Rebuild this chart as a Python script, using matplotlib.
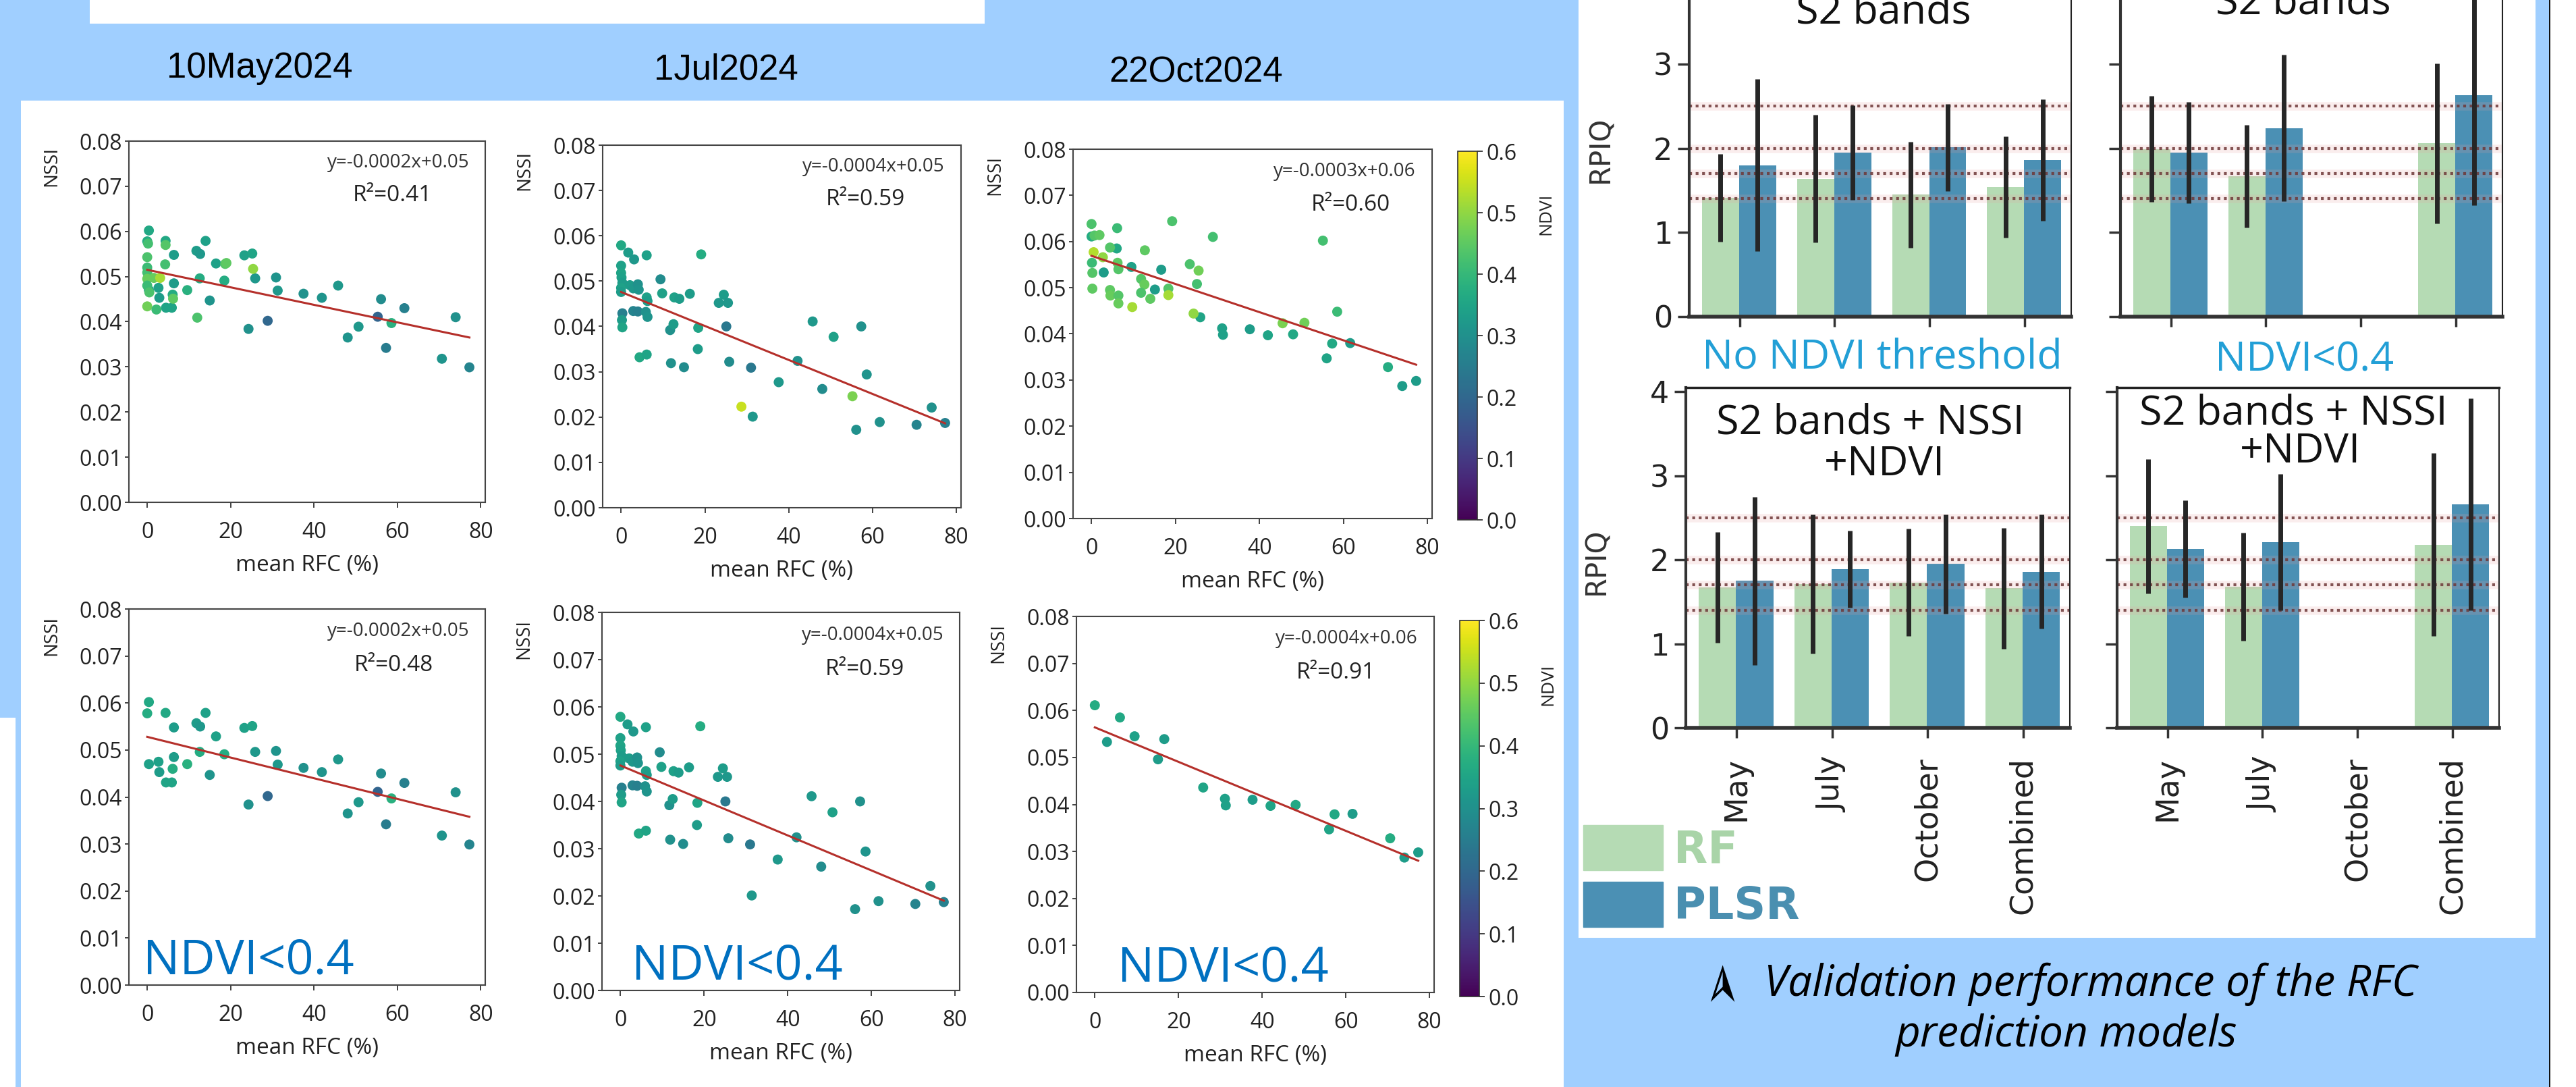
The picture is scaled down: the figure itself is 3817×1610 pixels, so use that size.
import numpy as np
import matplotlib.pyplot as plt
from matplotlib.patches import Rectangle, Patch
from matplotlib.ticker import FormatStrFormatter

plt.rcParams['font.family'] = ['Open Sans', 'DejaVu Sans']

W, H = 3817, 1610
BLUE = '#a0cfff'
RF_C = '#b5dbb4'
PLSR_C = '#4b90b4'
LINE_C = '#b5302b'
LABEL_BLUE = '#0070c0'
THR_BLUE = '#229fd6'

# ---------------- scatter data: mean RFC (%), NSSI, NDVI ----------------
dates = ['10May2024', '1Jul2024', '22Oct2024']

may_rfc = [0.4, 0.0, 0.4, 2.7, 2.9, 4.4, 4.5, 5.9, 6.4, 6.4,
           6.1, 9.6, 11.8, 12.7, 12.6, 14.0, 15.0, 16.5, 18.5, 23.3,
           25.2, 25.9, 24.3, 28.9, 30.9, 31.3, 37.5, 41.9, 45.8, 48.1,
           50.7, 55.3, 56.1, 57.3, 58.6, 61.7, 70.7, 74.0, 77.3,
           0.2, 0.0, 0.0, 0.0, 0.0, 0.0, 0.5, 0.0, 2.2, 1.6,
           3.1, 4.4, 4.3, 6.2, 12.0, 18.7, 19.0, 25.4]
may_nssi = [0.0602, 0.0578, 0.0470, 0.0475, 0.0453, 0.0579, 0.0431, 0.0431, 0.0548, 0.0485,
            0.0460, 0.0470, 0.0557, 0.0550, 0.0496, 0.0579, 0.0447, 0.0529, 0.0491, 0.0547,
            0.0551, 0.0496, 0.0384, 0.0402, 0.0498, 0.0469, 0.0462, 0.0453, 0.0480, 0.0365,
            0.0389, 0.0411, 0.0450, 0.0342, 0.0397, 0.0430, 0.0318, 0.0410, 0.0299,
            0.0573, 0.0543, 0.0520, 0.0509, 0.0495, 0.0480, 0.0465, 0.0434, 0.0427, 0.0497,
            0.0497, 0.0570, 0.0527, 0.0451, 0.0409, 0.0528, 0.0530, 0.0517]
may_ndvi = [0.36, 0.37, 0.34, 0.34, 0.33, 0.36, 0.35, 0.35, 0.33, 0.33,
            0.37, 0.38, 0.33, 0.32, 0.37, 0.34, 0.31, 0.34, 0.37, 0.34,
            0.35, 0.32, 0.30, 0.20, 0.31, 0.32, 0.30, 0.31, 0.32, 0.31,
            0.32, 0.19, 0.29, 0.25, 0.38, 0.26, 0.31, 0.30, 0.27,
            0.42, 0.43, 0.41, 0.42, 0.46, 0.41, 0.43, 0.47, 0.41, 0.46,
            0.52, 0.44, 0.42, 0.45, 0.43, 0.44, 0.45, 0.50]

jul_rfc = [0.0, 0.0, 0.0, 0.1, 0.3, 0.0, 0.0, 0.3, 0.2, 0.3,
           1.7, 3.1, 2.1, 2.9, 4.0, 4.2, 2.9, 4.0, 5.9, 6.3,
           6.1, 6.1, 6.3, 4.4, 6.1, 9.4, 9.8, 11.7, 12.5, 12.7,
           13.9, 16.4, 11.9, 15.0, 19.1, 18.4, 18.3, 23.3, 24.5, 25.5,
           25.1, 25.8, 28.7, 31.0, 31.4, 37.6, 42.1, 45.7, 48.0, 50.7,
           55.2, 56.1, 57.3, 58.6, 61.7, 70.5, 74.1, 77.3]
jul_nssi = [0.0579, 0.0534, 0.0518, 0.0508, 0.0496, 0.0485, 0.0476, 0.0429, 0.0414, 0.0398,
            0.0563, 0.0548, 0.0491, 0.0484, 0.0493, 0.0481, 0.0434, 0.0433, 0.0432, 0.0421,
            0.0557, 0.0464, 0.0456, 0.0332, 0.0338, 0.0504, 0.0473, 0.0392, 0.0405, 0.0464,
            0.0461, 0.0472, 0.0319, 0.0310, 0.0559, 0.0397, 0.0350, 0.0452, 0.0470, 0.0452,
            0.0400, 0.0322, 0.0223, 0.0309, 0.0201, 0.0277, 0.0324, 0.0411, 0.0262, 0.0377,
            0.0246, 0.0172, 0.0400, 0.0294, 0.0189, 0.0183, 0.0221, 0.0187]
jul_ndvi = [0.36, 0.34, 0.35, 0.34, 0.33, 0.34, 0.33, 0.26, 0.33, 0.35,
            0.33, 0.32, 0.33, 0.32, 0.30, 0.31, 0.27, 0.26, 0.30, 0.31,
            0.34, 0.34, 0.33, 0.36, 0.35, 0.29, 0.34, 0.30, 0.33, 0.34,
            0.33, 0.33, 0.30, 0.29, 0.37, 0.35, 0.33, 0.32, 0.33, 0.32,
            0.24, 0.29, 0.55, 0.24, 0.32, 0.32, 0.30, 0.32, 0.29, 0.34,
            0.48, 0.30, 0.30, 0.31, 0.30, 0.27, 0.30, 0.26]

oct_rfc = [0.0, 2.9, 6.0, 9.5, 15.1, 16.6, 25.9, 31.1, 31.3, 37.7,
           42.0, 48.0, 56.0, 57.3, 61.6, 70.6, 74.0, 77.3,
           0.0, 0.7, 1.9, 0.5, 0.1, 0.2, 0.2, 2.7, 4.4, 6.1,
           6.2, 6.4, 4.4, 4.5, 6.4, 6.4, 9.7, 11.8, 12.6, 12.7,
           11.8, 14.0, 18.3, 18.3, 19.2, 23.4, 25.5, 25.1, 24.3, 28.9,
           45.5, 50.7, 55.1, 58.5]
oct_nssi = [0.0611, 0.0533, 0.0585, 0.0545, 0.0496, 0.0539, 0.0436, 0.0412, 0.0398, 0.0410,
            0.0397, 0.0399, 0.0347, 0.0379, 0.0380, 0.0328, 0.0287, 0.0298,
            0.0638, 0.0613, 0.0614, 0.0577, 0.0554, 0.0532, 0.0498, 0.0566, 0.0587, 0.0629,
            0.0554, 0.0540, 0.0495, 0.0483, 0.0483, 0.0466, 0.0458, 0.0519, 0.0507, 0.0581,
            0.0489, 0.0476, 0.0498, 0.0484, 0.0644, 0.0551, 0.0537, 0.0508, 0.0444, 0.0610,
            0.0423, 0.0424, 0.0602, 0.0448]
oct_ndvi = [0.37, 0.33, 0.36, 0.34, 0.33, 0.33, 0.35, 0.34, 0.34, 0.33,
            0.35, 0.36, 0.35, 0.36, 0.33, 0.37, 0.33, 0.33,
            0.43, 0.44, 0.45, 0.53, 0.41, 0.44, 0.45, 0.50, 0.44, 0.41,
            0.45, 0.44, 0.45, 0.46, 0.44, 0.46, 0.52, 0.44, 0.46, 0.45,
            0.43, 0.45, 0.44, 0.52, 0.43, 0.43, 0.47, 0.42, 0.50, 0.42,
            0.48, 0.47, 0.42, 0.41]

ndvi_cut = 0.4

# fitted lines as drawn in the panels (all points / NDVI<0.4)
fit_all_slope = [-0.000194, -0.000375, -0.000305]
fit_all_icpt = [0.0515, 0.0476, 0.0569]
fit_low_slope = [-0.00022, -0.00037, -0.000367]
fit_low_icpt = [0.0528, 0.0476, 0.0564]
eq_all = ['y=-0.0002x+0.05', 'y=-0.0004x+0.05', 'y=-0.0003x+0.06']
eq_low = ['y=-0.0002x+0.05', 'y=-0.0004x+0.05', 'y=-0.0004x+0.06']
r2_all = [0.41, 0.59, 0.60]
r2_low = [0.48, 0.59, 0.91]

# ---------------- bar data: RPIQ (mean and error) ----------------
groups = ['May', 'July', 'October', 'Combined']
thresholds = [1.4, 1.7, 2.0, 2.5]

rf_s2_all = [1.41, 1.64, 1.45, 1.54]
rf_s2_all_err = [0.52, 0.76, 0.63, 0.60]
plsr_s2_all = [1.80, 1.95, 2.01, 1.86]
plsr_s2_all_err = [1.02, 0.56, 0.52, 0.72]

rf_s2_low = [1.99, 1.67, np.nan, 2.06]
rf_s2_low_err = [0.63, 0.61, np.nan, 0.95]
plsr_s2_low = [1.95, 2.24, np.nan, 2.63]
plsr_s2_low_err = [0.60, 0.87, np.nan, 1.31]

rf_nssi_all = [1.67, 1.71, 1.73, 1.66]
rf_nssi_all_err = [0.66, 0.83, 0.64, 0.72]
plsr_nssi_all = [1.75, 1.89, 1.95, 1.86]
plsr_nssi_all_err = [1.00, 0.46, 0.59, 0.68]

rf_nssi_low = [2.40, 1.68, np.nan, 2.18]
rf_nssi_low_err = [0.80, 0.64, np.nan, 1.09]
plsr_nssi_low = [2.13, 2.21, np.nan, 2.66]
plsr_nssi_low_err = [0.58, 0.81, np.nan, 1.26]


def fbox(x0, y0, x1, y1):
    return [x0 / W, 1 - y1 / H, (x1 - x0) / W, (y1 - y0) / H]


def fpt(x, y):
    return x / W, 1 - y / H


fig = plt.figure(figsize=(W / 100, H / 100), dpi=100)
fig.patch.set_facecolor(BLUE)


def rect(x0, y0, x1, y1, color='white'):
    fig.add_artist(Rectangle(fpt(x0, y1), (x1 - x0) / W, (y1 - y0) / H,
                             transform=fig.transFigure, facecolor=color,
                             edgecolor='none', zorder=-5))


# poster background pieces
rect(133, 0, 1459, 35)
rect(31, 149, 2317, 1610)
rect(0, 1063, 23, 1610)
rect(2339, 0, 3757, 1389)
rect(3777, 0, 3779, 1610, '#111111')
rect(3779, 0, 3817, 1610)

# ---------------- scatter panels ----------------
sc_top = [(191, 209, 719, 744), (893, 215, 1424, 752), (1590, 221, 2122, 768)]
sc_bot = [(191, 902, 719, 1459), (892, 907, 1422, 1467), (1595, 913, 2125, 1470)]
cbar_boxes = [(2160, 224, 2189, 770), (2163, 919, 2192, 1476)]
date_pos = [(385, 115), (1076, 117), (1772, 121)]
r2x_top = [0.739, 0.733, 0.773]
r2x_bot = [0.744, 0.734, 0.725]
ndvi_txt_x = [0.04, 0.083, 0.115]

sc_data = [(may_rfc, may_nssi, may_ndvi),
           (jul_rfc, jul_nssi, jul_ndvi),
           (oct_rfc, oct_nssi, oct_ndvi)]

for i in range(3):
    rfc, nssi, ndvi = (np.asarray(a) for a in sc_data[i])
    keep = ndvi < ndvi_cut
    fig.text(*fpt(*date_pos[i]), dates[i], ha='center', va='baseline',
             fontsize=38, family=['Liberation Sans Narrow', 'Liberation Sans'])
    rows = [(sc_top[i], np.ones_like(keep), fit_all_slope[i], fit_all_icpt[i], eq_all[i], r2_all[i], r2x_top[i]),
            (sc_bot[i], keep, fit_low_slope[i], fit_low_icpt[i], eq_low[i], r2_low[i], r2x_bot[i])]
    for r, (bx, m, sl, ic, eq, r2, r2x) in enumerate(rows):
        ax = fig.add_axes(fbox(*bx))
        sc = ax.scatter(rfc[m], nssi[m], c=ndvi[m], cmap='viridis', vmin=0, vmax=0.6,
                        s=115, linewidths=0, zorder=2)
        xx = np.array([0, rfc[m].max()])
        ax.plot(xx, ic + sl * xx, color=LINE_C, lw=2.2, zorder=3)
        ax.set_xlim(-4.4, 81.1)
        ax.set_ylim(0, 0.08)
        ax.set_xticks([0, 20, 40, 60, 80])
        ax.set_yticks(np.arange(0, 0.0801, 0.01))
        ax.yaxis.set_major_formatter(FormatStrFormatter('%.2f'))
        ax.tick_params(axis='x', labelsize=23, length=6, width=1.2, pad=14, colors='#222')
        ax.tick_params(axis='y', labelsize=23, length=4, width=1.2, pad=3, colors='#222')
        for s in ax.spines.values():
            s.set_color('#444')
            s.set_linewidth(1.5)
        ax.set_xlabel('mean RFC (%)', fontsize=24, labelpad=12, color='#222')
        ax.text(-0.218, 0.93, 'NSSI', transform=ax.transAxes, rotation=90,
                ha='center', va='center', fontsize=20, color='#222')
        ax.text(0.955, 0.94, eq, transform=ax.transAxes, ha='right', va='center',
                fontsize=20, color='#333')
        ax.text(r2x, 0.85, 'R\u00b2=%.2f' % r2, transform=ax.transAxes, ha='center',
                va='center', fontsize=24, color='#222')
        if r == 1:
            ax.text(ndvi_txt_x[i], 0.03, 'NDVI<0.4', transform=ax.transAxes, ha='left',
                    va='baseline', fontsize=52, color=LABEL_BLUE)
        if i == 2:
            cax = fig.add_axes(fbox(*cbar_boxes[r]))
            cb = fig.colorbar(sc, cax=cax, ticks=np.arange(0, 0.61, 0.1))
            cb.ax.yaxis.set_major_formatter(FormatStrFormatter('%.1f'))
            cb.ax.tick_params(labelsize=23, length=6, width=1.2, colors='#222')
            cb.outline.set_linewidth(1.2)
            cb.outline.set_edgecolor('#333')
            cax.text(4.5, 0.83, 'NDVI', transform=cax.transAxes, rotation=90,
                     ha='center', va='center', fontsize=19, color='#222')

# ---------------- RPIQ bar panels ----------------
bar_boxes = [(2503, -36, 3069, 469), (3142, -36, 3708, 469),
             (2498, 574, 3067, 1078), (3137, 574, 3703, 1078)]
bar_sets = [(rf_s2_all, rf_s2_all_err, plsr_s2_all, plsr_s2_all_err),
            (rf_s2_low, rf_s2_low_err, plsr_s2_low, plsr_s2_low_err),
            (rf_nssi_all, rf_nssi_all_err, plsr_nssi_all, plsr_nssi_all_err),
            (rf_nssi_low, rf_nssi_low_err, plsr_nssi_low, plsr_nssi_low_err)]
bar_titles = [[('S2 bands', 0.509, 0.861)],
              [('S2 bands', 0.479, 0.889)],
              [('S2 bands + NSSI', 0.48, 0.865), ('+NDVI', 0.518, 0.742)],
              [('S2 bands + NSSI', 0.461, 0.891), ('+NDVI', 0.479, 0.78)]]

xg = np.arange(len(groups))
for k in range(4):
    ax = fig.add_axes(fbox(*bar_boxes[k]))
    ax.set_facecolor('none')
    rf, rf_e, pl, pl_e = bar_sets[k]
    ax.bar(xg - 0.2, rf, 0.39, color=RF_C, zorder=1)
    ax.bar(xg + 0.19, pl, 0.39, color=PLSR_C, zorder=1)
    for t in thresholds:
        ax.axhline(t, color='#e8a0a0', lw=9, alpha=0.18, zorder=2)
        ax.axhline(t, color='#6e3838', lw=3, ls=(0, (1, 1.3)), alpha=0.85, zorder=2)
    ax.errorbar(xg - 0.2, rf, yerr=rf_e, fmt='none', ecolor='#262626', elinewidth=5, capsize=0, zorder=3)
    ax.errorbar(xg + 0.19, pl, yerr=pl_e, fmt='none', ecolor='#262626', elinewidth=5, capsize=0, zorder=3)
    ax.set_xlim(-0.53, 3.49)
    ax.set_ylim(0, 4.05)
    # the 4 tick of the upper row sits above the poster edge
    ax.set_yticks([0, 1, 2, 3, 4] if k >= 2 else [0, 1, 2, 3])
    ax.set_xticks(xg)
    if k >= 2:
        ax.set_xticklabels(groups, rotation=90, fontsize=33, family='DejaVu Sans', color='#222')
    else:
        ax.set_xticklabels([])
    ax.tick_params(axis='x', length=11, width=2.5, color='#333', pad=20)
    ax.tick_params(axis='y', length=12, width=2.5, color='#333', pad=6, labelsize=32)
    if k % 2 == 0:
        for lb in ax.get_yticklabels():
            lb.set_family('DejaVu Sans')
            lb.set_color('#222')
        ax.set_ylabel('RPIQ', fontsize=30, family='DejaVu Sans', color='#333')
        ax.yaxis.set_label_coords(-0.196, 0.49)
    else:
        ax.tick_params(axis='y', labelleft=False)
    ax.spines['left'].set_linewidth(3)
    ax.spines['left'].set_color('#333')
    ax.spines['bottom'].set_linewidth(4)
    ax.spines['bottom'].set_color('#333')
    ax.spines['top'].set_linewidth(2.5)
    ax.spines['top'].set_color('#222')
    ax.spines['right'].set_linewidth(1.5)
    ax.spines['right'].set_color('#222')
    for txt, tx, ty in bar_titles[k]:
        ax.text(tx, ty, txt, transform=ax.transAxes, ha='center', va='baseline',
                fontsize=44, color='#111')

fig.text(*fpt(2789, 545), 'No NDVI threshold', ha='center', va='baseline',
         fontsize=44, color=THR_BLUE)
fig.text(*fpt(3415, 550), 'NDVI<0.4', ha='center', va='baseline',
         fontsize=44, color=THR_BLUE)

leg = fig.legend(handles=[Patch(color=RF_C, label='RF'), Patch(color=PLSR_C, label='PLSR')],
                 loc='upper left', bbox_to_anchor=fpt(2346, 1222), frameon=False,
                 prop={'weight': 'bold', 'size': 47, 'family': 'DejaVu Sans'},
                 labelcolor=['#a9d4a8', '#4a8fb0'], handlelength=1.8, handleheight=1.2,
                 handletextpad=0.25, labelspacing=0.22, borderpad=0, borderaxespad=0)

# caption
fig.text(*fpt(2548, 1450), '\u27a2', rotation=90, ha='center', va='center',
         fontsize=58, family='DejaVu Sans')
fig.text(*fpt(3098, 1475), 'Validation performance of the RFC', ha='center',
         va='baseline', fontsize=46, style='italic')
fig.text(*fpt(3062, 1550), 'prediction models', ha='center', va='baseline',
         fontsize=46, style='italic')

fig.savefig('out.png', dpi=100, facecolor=fig.get_facecolor())
